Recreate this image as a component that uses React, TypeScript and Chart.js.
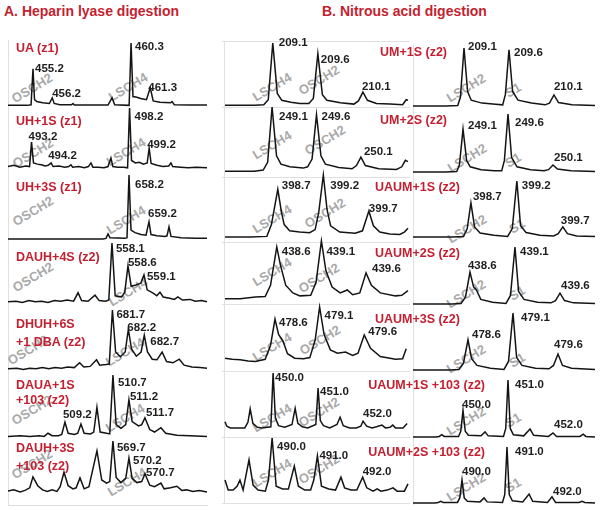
import React, { useEffect, useRef } from "react";
import { Chart, registerables } from "chart.js";

Chart.register(...registerables);

type Pt = [number, number];

// ---------- Data: profiles [m/z, relative intensity %] ----------
const UA_Z1: Pt[] = [[453.9,1],[454.9,1],[455.1,2],[455.2,59],[455.28,10],[455.4,7],[455.7,5],[456.05,4],[456.2,13],[456.3,4],[456.6,2],[457.2,2],[457.28,4],[457.35,1.5],[459.1,1.5],[459.31,13],[459.45,2],[460.2,1],[460.3,100],[460.4,15],[460.6,14],[460.8,12],[461.1,10],[461.3,29],[461.45,8],[461.8,6],[462.35,5],[462.43,7],[462.55,2],[463.4,1.5],[464.25,1.5]];
const UH1S_Z1: Pt[] = [[492.0,4],[492.3,6],[492.6,3],[492.9,5],[493.1,4],[493.2,44],[493.3,10],[493.5,8],[493.7,7],[493.9,5],[494.05,6],[494.2,10],[494.3,4],[494.6,5],[494.9,3],[495.1,4],[495.21,7],[495.3,3],[495.6,4],[495.9,2],[496.1,4],[496.23,10],[496.33,3],[496.6,3],[496.9,2],[497.1,4],[497.25,18],[497.35,4],[497.6,3],[497.9,3],[498.1,2],[498.2,100],[498.3,14],[498.5,10],[498.7,11],[498.9,8],[499.1,10],[499.2,34],[499.3,9],[499.6,6],[499.9,4],[500.2,5],[500.31,10],[500.4,4],[500.8,3],[501.2,2],[501.6,3],[502.15,2]];
const UH3S_Z1: Pt[] = [[652.15,0],[656.9,0],[657.05,1],[657.15,8],[657.25,2],[658.0,1],[658.1,2],[658.2,100],[658.3,14],[658.5,10],[658.8,7],[659.05,6],[659.2,27],[659.3,7],[659.6,5],[660.0,4],[660.1,5],[660.2,19],[660.3,4],[660.8,2],[661.5,1],[662.1,1]];
const DAUH4S_Z2: Pt[] = [[554.85,2],[555.1,3],[555.3,1],[555.5,4],[555.7,2],[555.9,3],[556.1,1],[556.3,4],[556.5,3],[556.7,5],[556.9,3],[557.04,17],[557.15,4],[557.35,3],[557.57,13],[557.7,4],[557.9,3],[558.0,5],[558.1,100],[558.2,12],[558.4,10],[558.5,18],[558.6,62],[558.7,28],[558.85,30],[559.0,33],[559.1,47],[559.2,22],[559.4,16],[559.5,12],[559.6,18],[559.7,10],[559.9,8],[560.05,6],[560.16,10],[560.3,5],[560.54,6],[560.7,3],[560.9,4],[561.07,2]];
const DHUH6S_Z2: Pt[] = [[678.42,2],[678.7,3],[678.9,1],[679.1,3],[679.3,2],[679.5,4],[679.7,2],[679.9,4],[680.1,3],[680.3,5],[680.5,4],[680.67,12],[680.8,5],[681.0,6],[681.2,17],[681.3,8],[681.5,9],[681.6,10],[681.7,100],[681.8,30],[681.95,22],[682.1,30],[682.2,68],[682.3,35],[682.45,23],[682.6,30],[682.7,58],[682.8,30],[682.95,18],[683.1,17],[683.26,30],[683.4,14],[683.6,12],[683.8,18],[683.95,8],[684.2,5],[684.45,4],[684.67,3]];
const DAUA1S103_Z2: Pt[] = [[507.42,1],[507.8,2],[508.1,1],[508.4,2],[508.55,1],[508.67,6],[508.8,2],[509.0,2],[509.1,4],[509.2,24],[509.3,6],[509.5,4],[509.6,6],[509.7,21],[509.8,6],[510.0,5],[510.1,8],[510.2,48],[510.3,8],[510.5,6],[510.6,5],[510.7,100],[510.8,20],[510.95,14],[511.1,20],[511.2,60],[511.3,25],[511.5,18],[511.6,20],[511.7,31],[511.85,12],[512.0,8],[512.2,15],[512.35,6],[512.7,3],[513.1,2],[513.64,1]];
const DAUH3S103_Z2: Pt[] = [[566.42,4],[566.6,6],[566.8,2],[566.95,5],[567.1,10],[567.2,31],[567.35,14],[567.5,6],[567.65,3],[567.8,6],[567.95,3],[568.05,12],[568.17,40],[568.3,14],[568.45,8],[568.55,10],[568.67,29],[568.8,8],[568.95,12],[569.2,81],[569.35,25],[569.5,19],[569.6,22],[569.7,100],[569.8,30],[569.95,20],[570.1,28],[570.2,67],[570.3,28],[570.45,20],[570.6,22],[570.7,37],[570.85,15],[571.0,12],[571.2,19],[571.3,8],[571.5,10],[571.7,13],[571.85,5],[572.0,6],[572.2,3],[572.4,5],[572.64,2]];

const UM1S_LYASE: Pt[] = [[208.57,1],[208.9,1],[209.0,2],[209.05,10],[209.1,100],[209.15,20],[209.2,9],[209.3,6],[209.4,4],[209.5,4],[209.55,12],[209.6,83],[209.65,18],[209.7,9],[209.85,5],[210.0,3],[210.05,8],[210.1,22],[210.15,9],[210.25,4],[210.4,3],[210.54,2],[210.58,10],[210.6,9]];
const UM2S_LYASE: Pt[] = [[248.57,1],[248.9,1],[249.0,3],[249.05,15],[249.1,100],[249.15,25],[249.2,12],[249.3,8],[249.45,6],[249.5,8],[249.55,20],[249.6,88],[249.65,25],[249.7,12],[249.85,7],[250.0,5],[250.05,10],[250.1,23],[250.15,10],[250.3,5],[250.5,4],[250.56,8],[250.6,18],[250.63,16]];
const UAUM1S_LYASE: Pt[] = [[398.12,0],[398.4,0],[398.58,1],[398.63,20],[398.7,77],[398.74,40],[398.77,20],[398.83,10],[398.94,8],[399.05,7],[399.11,12],[399.15,40],[399.2,100],[399.24,45],[399.28,18],[399.38,8],[399.55,6],[399.63,10],[399.7,42],[399.75,18],[399.82,8],[399.93,5],[400.04,4],[400.09,8],[400.13,14]];
const UAUM2S_LYASE: Pt[] = [[438.02,2],[438.19,2],[438.36,5],[438.47,6],[438.53,25],[438.6,90],[438.64,60],[438.7,25],[438.78,12],[438.86,7],[438.98,8],[439.04,30],[439.1,100],[439.15,50],[439.22,22],[439.31,12],[439.39,17],[439.45,9],[439.53,12],[439.6,46],[439.66,25],[439.76,12],[439.93,7],[440.0,8],[440.07,16]];
const UAUM3S_LYASE: Pt[] = [[478.04,7],[478.12,5],[478.21,4],[478.3,2],[478.38,1],[478.49,5],[478.55,30],[478.6,78],[478.64,50],[478.69,38],[478.74,15],[478.82,7],[478.92,6],[478.99,8],[479.05,40],[479.1,100],[479.15,50],[479.22,22],[479.3,16],[479.39,18],[479.47,12],[479.53,16],[479.6,49],[479.67,25],[479.78,10],[479.95,5],[480.03,6],[480.07,24]];
const UAUM1S103_LYASE: Pt[] = [[448.93,13],[448.97,5],[449.05,2],[449.37,2],[449.44,12],[449.49,36],[449.55,10],[449.65,3],[449.75,2],[449.95,4],[450.0,100],[450.05,20],[450.12,6],[450.26,3],[450.42,8],[450.49,37],[450.55,10],[450.65,4],[450.77,2],[450.95,8],[451.0,73],[451.05,15],[451.12,6],[451.26,2],[451.42,8],[451.49,21],[451.56,6],[451.7,2],[451.85,2],[451.95,5],[452.0,14],[452.08,5],[452.2,2],[452.3,4],[452.42,7],[452.5,2],[452.6,3],[452.66,7],[452.72,2],[452.89,2],[452.98,10]];
const UAUM2S103_LYASE: Pt[] = [[488.96,25],[489.03,7],[489.14,7],[489.23,14],[489.29,25],[489.36,7],[489.49,61],[489.58,16],[489.69,7],[489.85,5],[489.92,25],[490.0,100],[490.09,14],[490.23,9],[490.36,9],[490.49,50],[490.58,14],[490.72,7],[490.85,7],[490.92,25],[491.0,68],[491.09,14],[491.25,9],[491.4,7],[491.52,30],[491.6,11],[491.74,7],[491.87,7],[492.0,30],[492.09,11],[492.23,5],[492.32,9],[492.4,5],[492.54,7],[492.67,11],[492.76,5],[492.92,5],[493.0,18]];

const UM1S_STD: Pt[] = [[208.533,0],[208.9,0],[209.03,1],[209.06,15],[209.1,100],[209.14,25],[209.18,10],[209.3,5],[209.45,3],[209.53,2],[209.56,20],[209.6,97],[209.64,25],[209.7,10],[209.85,5],[210.0,2],[210.05,5],[210.1,19],[210.15,6],[210.3,2],[210.556,1]];
const UM2S_STD: Pt[] = [[248.544,0],[248.9,0],[249.03,1],[249.06,12],[249.1,74],[249.14,20],[249.18,9],[249.3,4],[249.45,2],[249.53,2],[249.56,20],[249.6,100],[249.64,25],[249.7,9],[249.85,4],[250.0,2],[250.05,4],[250.1,12],[250.15,5],[250.3,2],[250.567,1]];
const UAUM1S_STD: Pt[] = [[398.07,0],[398.5,0],[398.62,1],[398.66,15],[398.7,61],[398.74,18],[398.8,7],[398.95,3],[399.1,1],[399.15,15],[399.2,100],[399.24,20],[399.3,8],[399.45,3],[399.6,2],[399.65,6],[399.7,18],[399.75,6],[399.85,2],[400.05,1]];
const UAUM2S_STD: Pt[] = [[437.967,0],[438.4,0],[438.5,1],[438.55,12],[438.6,56],[438.64,30],[438.67,25],[438.72,8],[438.85,3],[439.0,1],[439.05,15],[439.1,100],[439.14,22],[439.2,8],[439.35,3],[439.5,2],[439.55,6],[439.6,19],[439.65,6],[439.75,2],[439.989,1]];
const UAUM3S_STD: Pt[] = [[477.989,0],[478.4,0],[478.5,1],[478.55,12],[478.6,53],[478.64,20],[478.7,8],[478.85,3],[479.0,1],[479.05,15],[479.1,100],[479.14,22],[479.2,8],[479.35,3],[479.5,2],[479.55,8],[479.6,28],[479.65,8],[479.75,3],[480.011,1]];
const UAUM1S103_STD: Pt[] = [[448.889,0],[449.4,0],[449.47,1],[449.53,4],[449.58,1],[449.9,1],[449.95,10],[450.0,47],[450.05,10],[450.12,3],[450.4,2],[450.49,9],[450.56,2],[450.9,1],[450.95,15],[451.0,100],[451.05,15],[451.12,4],[451.35,2],[451.49,14],[451.57,3],[451.9,1],[452.0,7],[452.08,1],[452.6,1],[452.67,5],[452.73,1],[452.933,0]];
const UAUM2S103_STD: Pt[] = [[488.911,0],[489.4,0],[489.47,1],[489.53,3],[489.58,1],[489.9,1],[489.95,9],[490.0,41],[490.05,9],[490.12,3],[490.4,2],[490.49,9],[490.56,2],[490.9,1],[490.95,15],[491.0,100],[491.05,15],[491.12,4],[491.35,2],[491.49,16],[491.57,3],[491.9,1],[492.0,11],[492.08,1],[492.6,1],[492.67,3],[492.73,1],[492.956,0]];

// Labelled peaks (m/z)
const PEAKS_A = [[455.2,456.2,460.3,461.3],[493.2,494.2,498.2,499.2],[658.2,659.2],[558.1,558.6,559.1],[681.7,682.2,682.7],[510.7,511.2,511.7,509.2],[569.7,570.2,570.7]];
const PEAKS_B = [[209.1,209.6,210.1],[249.1,249.6,250.1],[398.7,399.2,399.7],[438.6,439.1,439.6],[478.6,479.1,479.6],[450.0,451.0,452.0],[490.0,491.0,492.0]];

// Titles
const TITLES_A = [["UA (z1)"],["UH+1S (z1)"],["UH+3S (z1)"],["DAUH+4S (z2)"],["DHUH+6S","+1 DBA (z2)"],["DAUA+1S","+103 (z2)"],["DAUH+3S","+103 (z2)"]];
const TITLES_B = ["UM+1S (z2)","UM+2S (z2)","UAUM+1S (z2)","UAUM+2S (z2)","UAUM+3S (z2)","UAUM+1S +103 (z2)","UAUM+2S +103 (z2)"];

// ---------- Layout ----------
interface Panel {
  profile: Pt[]; peaks: number[]; offsets: number[][];
  xMin: number; xMax: number; left: number; right: number; apexY: number; baseY: number;
}
const RED = "#c41f30";
const FONT = "'Liberation Sans', Arial, Helvetica, sans-serif";
const PAD_L = 3, PAD_R = 6, PAD_T = 16, PAD_B = 3;

const A_GEOM = [
  { xMin: 453.9, xMax: 464.25, apexY: 43, baseY: 106, off: [[2,0],[0,-4],[4,4],[-2,0]] },
  { xMin: 492.0, xMax: 502.15, apexY: 108, baseY: 169, off: [[-3,-5],[-3,-7],[5,9],[-2,-3]] },
  { xMin: 652.15, xMax: 662.1, apexY: 175, baseY: 239, off: [[6,10],[-1,-8]] },
  { xMin: 554.85, xMax: 561.07, apexY: 243, baseY: 303, off: [[4,6],[0,-3],[3,2]] },
  { xMin: 678.42, xMax: 684.67, apexY: 310, baseY: 370, off: [[4,5],[-1,-1],[6,7]] },
  { xMin: 507.42, xMax: 513.64, apexY: 375, baseY: 437, off: [[5,8],[1,-3],[1,-5],[-2,-7]] },
  { xMin: 566.42, xMax: 572.64, apexY: 441, baseY: 493, off: [[4,7],[4,3],[1,-1]] },
];
const BL_GEOM = [
  { xMin: 208.57, xMax: 210.6, apexY: 43, baseY: 106, off: [[6,0],[3,6],[-1,-5]] },
  { xMin: 248.57, xMax: 250.63, apexY: 107, baseY: 172, off: [[7,10],[5,2],[3,-5]] },
  { xMin: 398.12, xMax: 400.13, apexY: 175, baseY: 237, off: [[4,-3],[7,11],[0,-2]] },
  { xMin: 438.02, xMax: 440.07, apexY: 241, baseY: 300, off: [[5,5],[5,11],[6,-4]] },
  { xMin: 478.04, xMax: 480.09, apexY: 307, baseY: 362, off: [[4,4],[5,9],[4,-3]] },
  { xMin: 448.93, xMax: 453.0, apexY: 373, baseY: 429, off: [[2,5],[2,4],[0,-7]] },
  { xMin: 488.96, xMax: 493.0, apexY: 438, baseY: 494, off: [[5,9],[2,0],[0,-5]] },
];
const BR_GEOM = [
  { xMin: 208.533, xMax: 210.556, apexY: 48, baseY: 106, off: [[4,-1],[5,3],[0,-8]] },
  { xMin: 248.544, xMax: 250.567, apexY: 114, baseY: 172, off: [[5,-3],[7,9],[1,-7]] },
  { xMin: 398.07, xMax: 400.05, apexY: 181, baseY: 237, off: [[2,-6],[5,5],[-2,-6]] },
  { xMin: 437.967, xMax: 439.989, apexY: 247, baseY: 304, off: [[-2,-6],[5,5],[1,-7]] },
  { xMin: 477.989, xMax: 480.011, apexY: 313, baseY: 370, off: [[4,-5],[8,5],[-4,-9]] },
  { xMin: 448.889, xMax: 452.933, apexY: 380, baseY: 437, off: [[-1,-5],[7,5],[1,-8]] },
  { xMin: 488.911, xMax: 492.956, apexY: 447, baseY: 503, off: [[0,-8],[8,5],[1,-5]] },
];

const PROFILES_A = [UA_Z1, UH1S_Z1, UH3S_Z1, DAUH4S_Z2, DHUH6S_Z2, DAUA1S103_Z2, DAUH3S103_Z2];
const PROFILES_BL = [UM1S_LYASE, UM2S_LYASE, UAUM1S_LYASE, UAUM2S_LYASE, UAUM3S_LYASE, UAUM1S103_LYASE, UAUM2S103_LYASE];
const PROFILES_BR = [UM1S_STD, UM2S_STD, UAUM1S_STD, UAUM2S_STD, UAUM3S_STD, UAUM1S103_STD, UAUM2S103_STD];

const PANELS: Panel[] = [
  ...A_GEOM.map((g, i) => ({ profile: PROFILES_A[i], peaks: PEAKS_A[i], offsets: g.off, xMin: g.xMin, xMax: g.xMax, left: 8, right: 207, apexY: g.apexY, baseY: g.baseY })),
  ...BL_GEOM.map((g, i) => ({ profile: PROFILES_BL[i], peaks: PEAKS_B[i], offsets: g.off, xMin: g.xMin, xMax: g.xMax, left: 225, right: 408, apexY: g.apexY, baseY: g.baseY })),
  ...BR_GEOM.map((g, i) => ({ profile: PROFILES_BR[i], peaks: PEAKS_B[i], offsets: g.off, xMin: g.xMin, xMax: g.xMax, left: 413, right: 595, apexY: g.apexY, baseY: g.baseY })),
];

// Title positions
const TITLE_A_Y = [[48],[121],[187],[257],[324,342],[385,400],[448,466]];
const TITLE_B_POS = [[447,52],[447,120],[460,187],[460,253],[460,319],[485,385],[485,452]];

// Grey annotation labels [text, x, y]
const GREY_LABELS: [string, number, number][] = [
  ["OSCH2",32,88],["OSCH2",33,153],["OSCH2",33,211],["OSCH2",33,277],["OSCH2",28,350],["OSCH2",32,410],["OSCH2",32,464],
  ["LSCH4",128,87],["LSCH4",126,152],["LSCH4",126,220],["LSCH4",128,292],["LSCH4",125,352],["LSCH4",125,418],["LSCH4",127,482],
  ["LSCH4",272,87],["LSCH4",272,145],["LSCH4",272,219],["LSCH4",272,272],["LSCH4",272,347],["LSCH4",272,418],["LSCH4",272,473],
  ["OSCH2",319,80],["OSCH2",325,140],["OSCH2",325,213],["OSCH2",319,278],["OSCH2",320,340],["OSCH2",319,412],["OSCH2",319,469],
  ["LSCH2",466,88],["LSCH2",467,158],["LSCH2",467,229],["LSCH2",466,294],["LSCH2",466,359],["LSCH2",466,421],["LSCH2",466,487],
  ["S1",513,90],["S1",513,160],["S1",517,226],["S1",517,293],["S1",517,360],["S1",513,420],["S1",513,485],
];

// Frame lines [x, y, w, h]
const FRAME_LINES: number[][] = [
  [8,40,1,466],[8,505,200,1],
  [224,41,1,463],
  ...[41,107,177,242,304,371,437,503].map((y) => [222, y, 188, 1]),
  [413,45,1,460],
];

function makeLabelPlugin(p: Panel) {
  return {
    id: "peakLabels",
    afterDatasetsDraw(chart: any) {
      const ctx = chart.ctx;
      const xs = chart.scales.x, ys = chart.scales.y;
      ctx.save();
      ctx.fillStyle = "#1e1e1e";
      ctx.font = `bold 11.5px ${FONT}`;
      ctx.textAlign = "left";
      ctx.textBaseline = "middle";
      p.peaks.forEach((mz, i) => {
        const pt = p.profile.find((d) => Math.abs(d[0] - mz) < 1e-6);
        if (!pt) return;
        const [dx, dy] = p.offsets[i] || [0, 0];
        ctx.fillText(mz.toFixed(1), xs.getPixelForValue(pt[0]) + dx, ys.getPixelForValue(pt[1]) + dy);
      });
      ctx.restore();
    },
  };
}

export default function App() {
  const refs = useRef<(HTMLCanvasElement | null)[]>([]);
  useEffect(() => {
    const charts = PANELS.map((p, i) => {
      const canvas = refs.current[i]!;
      return new Chart(canvas, {
        type: "line",
        data: {
          datasets: [{
            data: p.profile.map(([x, y]) => ({ x, y })),
            borderColor: "#141414",
            borderWidth: 1.5,
            pointRadius: 0,
            tension: 0,
            fill: false,
            clip: false as any,
          }],
        },
        options: {
          animation: false,
          responsive: false,
          devicePixelRatio: 1,
          events: [],
          layout: { padding: { left: PAD_L, right: PAD_R, top: PAD_T, bottom: PAD_B } },
          plugins: { legend: { display: false }, tooltip: { enabled: false }, title: { display: false } },
          scales: {
            x: { type: "linear", min: p.xMin, max: p.xMax, display: false },
            y: { type: "linear", min: 0, max: 100, display: false },
          },
        } as any,
        plugins: [makeLabelPlugin(p)],
      });
    });
    return () => charts.forEach((c) => c.destroy());
  }, []);

  return (
    <div style={{ position: "absolute", left: 0, top: 0, width: 601, height: 510, background: "#fff", overflow: "hidden", fontFamily: FONT }}>
      {FRAME_LINES.map(([x, y, w, h], i) => (
        <div key={"f" + i} style={{ position: "absolute", left: x, top: y, width: w, height: h, background: "#e0e0e0" }} />
      ))}
      {GREY_LABELS.map(([t, x, y], i) => (
        <div key={"g" + i} style={{ position: "absolute", left: x, top: y, transform: "translate(-50%,-50%) rotate(-31deg)", fontSize: 13, fontWeight: "bold", color: "#a9a9a9", whiteSpace: "nowrap", lineHeight: "13px" }}>{t}</div>
      ))}
      {PANELS.map((p, i) => {
        const w = p.right - p.left + PAD_L + PAD_R;
        const h = p.baseY - p.apexY + PAD_T + PAD_B;
        return (
          <canvas key={"c" + i} ref={(el) => { refs.current[i] = el; }} width={w} height={h}
            style={{ position: "absolute", left: p.left - PAD_L, top: p.apexY - PAD_T, width: w, height: h }} />
        );
      })}
      <div style={{ position: "absolute", left: 4, top: 11, transform: "translateY(-50%)", fontSize: 14, fontWeight: "bold", color: RED, whiteSpace: "nowrap" }}>A. Heparin lyase digestion</div>
      <div style={{ position: "absolute", left: 322, top: 11, transform: "translateY(-50%)", fontSize: 14, fontWeight: "bold", color: RED, whiteSpace: "nowrap" }}>B. Nitrous acid digestion</div>
      {TITLES_A.map((lines, i) => lines.map((t, j) => (
        <div key={"ta" + i + "_" + j} style={{ position: "absolute", left: 16, top: TITLE_A_Y[i][j], transform: "translateY(-50%)", fontSize: 12.5, fontWeight: "bold", color: RED, whiteSpace: "nowrap", lineHeight: "14px" }}>{t}</div>
      )))}
      {TITLES_B.map((t, i) => (
        <div key={"tb" + i} style={{ position: "absolute", left: TITLE_B_POS[i][0], top: TITLE_B_POS[i][1], transform: "translate(-100%,-50%)", fontSize: 12.5, fontWeight: "bold", color: RED, whiteSpace: "nowrap", lineHeight: "14px" }}>{t}</div>
      ))}
    </div>
  );
}
